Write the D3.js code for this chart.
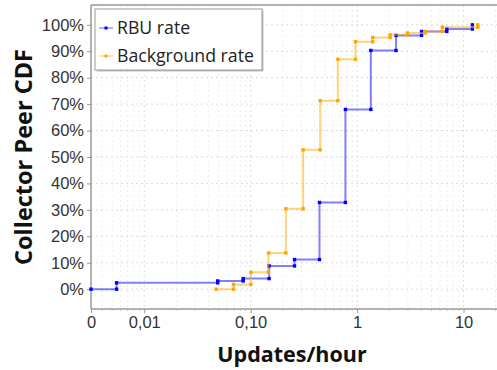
<!DOCTYPE html>
<html>
<head>
<meta charset="utf-8">
<script src="https://cdn.jsdelivr.net/npm/d3@7"></script>
<style>
  body { margin: 0; background: #fff; }
  svg { display: block; font-family: "Open Sans", "Noto Sans", sans-serif; }
</style>
</head>
<body>
<div id="chart"></div>
<script>
// RBU rate (updates/hour -> cumulative % of collector peers)
var rbuX = [0, 0.0055, 0.049, 0.085, 0.149, 0.258, 0.443, 0.776, 1.345, 2.32, 4.03, 6.95, 12.1];
var rbuY = [0, 2.4, 3.1, 4.0, 8.8, 11.2, 32.8, 68.0, 90.3, 96.0, 97.5, 98.4, 100];
// Background rate
var bgX = [0.0474, 0.0689, 0.1005, 0.147, 0.214, 0.311, 0.450, 0.659, 0.964, 1.40, 2.04, 2.97, 4.35, 6.32, 13.6];
var bgY = [0, 1.8, 6.4, 13.7, 30.4, 52.7, 71.3, 87.0, 93.6, 95.2, 96.2, 96.9, 97.5, 99.1, 100];

var xTicks = [0, 0.01, 0.1, 1, 10];
var xTickLabels = ["0", "0,01", "0,10", "1", "10"];
var yTicks = [0, 10, 20, 30, 40, 50, 60, 70, 80, 90, 100];

var W = 497, H = 370;
var margin = {top: 5, right: 0, bottom: 61, left: 91};
var width = W - margin.left - margin.right,
    height = H - margin.top - margin.bottom;

var svg = d3.select("#chart").append("svg")
  .attr("width", W)
  .attr("height", H);

var g = svg.append("g")
  .attr("transform", "translate(" + margin.left + "," + margin.top + ")");

// log axis, clamped so that 0 lands on the left edge (half a decade below 0,01)
var xMin = Math.pow(10, -2.5);
var x = d3.scaleLog().domain([xMin, 20.6]).range([0, width]).clamp(true);
var xPos = function(v) { return v <= 0 ? 0 : x(v); };
var y = d3.scaleLinear().domain([-7.5, 107.5]).range([height, 0]);

// minor grid
var minor = [];
[0.001, 0.01, 0.1, 1, 10].forEach(function(d) {
  for (var k = 2; k <= 9; k++) {
    var v = d * k;
    if (v > xMin && v < 20.6) minor.push(v);
  }
});
g.selectAll(".minor").data(minor).enter().append("line")
  .attr("x1", function(d) { return x(d); })
  .attr("x2", function(d) { return x(d); })
  .attr("y1", 0).attr("y2", height)
  .attr("stroke", "#ececec").attr("stroke-dasharray", "2,3");

g.selectAll(".vgrid").data(xTicks.slice(1)).enter().append("line")
  .attr("x1", function(d) { return x(d); })
  .attr("x2", function(d) { return x(d); })
  .attr("y1", 0).attr("y2", height)
  .attr("stroke", "#dcdcdc").attr("stroke-dasharray", "2,3");

g.selectAll(".hgrid").data(yTicks).enter().append("line")
  .attr("x1", 0).attr("x2", width)
  .attr("y1", function(d) { return y(d); })
  .attr("y2", function(d) { return y(d); })
  .attr("stroke", "#dcdcdc").attr("stroke-dasharray", "2,3");

// frame
g.append("line").attr("x1", 0).attr("x2", width).attr("y1", 0).attr("y2", 0)
  .attr("stroke", "#999").attr("stroke-width", 1.5);

// axes
var yAxis = d3.axisLeft(y).tickValues(yTicks).tickSize(4)
  .tickFormat(function(d) { return d + "%"; });
var ya = g.append("g").call(yAxis);
ya.select(".domain").attr("stroke", "#999").attr("stroke-width", 1.5)
  .attr("d", "M0," + height + "V0");
ya.selectAll(".tick line").attr("stroke", "#999");
ya.selectAll("text").attr("font-size", 16.5).attr("fill", "#333").attr("x", -7);

var xAxis = d3.axisBottom(x).tickValues(xTicks).tickSize(4)
  .tickFormat(function(d, i) { return xTickLabels[i]; });
var xa = g.append("g").attr("transform", "translate(0," + height + ")").call(xAxis);
xa.select(".domain").attr("stroke", "#999").attr("stroke-width", 1.5)
  .attr("d", "M0,0H" + width);
xa.selectAll(".tick line").attr("stroke", "#999");
xa.selectAll("text").attr("font-size", 16.5).attr("fill", "#333").attr("y", 7);

g.selectAll(".mtick").data(minor).enter().append("line")
  .attr("x1", function(d) { return x(d); })
  .attr("x2", function(d) { return x(d); })
  .attr("y1", height).attr("y2", height + 2)
  .attr("stroke", "#bbb");

// series
function drawSeries(xs, ys, color) {
  var pts = xs.map(function(d, i) { return [xPos(d), y(ys[i])]; });
  g.append("path")
    .attr("d", d3.line().curve(d3.curveStepAfter)(pts))
    .attr("fill", "none")
    .attr("stroke", color)
    .attr("stroke-opacity", 0.5)
    .attr("stroke-width", 2);
  var marks = [];
  xs.forEach(function(d, i) {
    if (i > 0) marks.push([xPos(d), y(ys[i - 1])]);
    marks.push([xPos(d), y(ys[i])]);
  });
  g.selectAll(null).data(marks).enter().append("rect")
    .attr("x", function(d) { return d[0] - 1.7; })
    .attr("y", function(d) { return d[1] - 1.7; })
    .attr("width", 3.4).attr("height", 3.4)
    .attr("fill", color);
}
drawSeries(rbuX, rbuY, "#0000ff");
drawSeries(bgX, bgY, "#ffa500");

// legend
var lg = svg.append("g").attr("transform", "translate(95,9)");
lg.append("rect").attr("x", 1.5).attr("y", 1.5).attr("width", 167).attr("height", 61)
  .attr("fill", "#888").attr("opacity", 0.5);
lg.append("rect").attr("x", 0).attr("y", 0).attr("width", 167).attr("height", 61)
  .attr("fill", "#fff").attr("stroke", "#999");
var items = [["RBU rate", "#0000ff"], ["Background rate", "#ffa500"]];
items.forEach(function(it, i) {
  var cy = 19 + i * 28;
  lg.append("line").attr("x1", 4).attr("x2", 18).attr("y1", cy).attr("y2", cy)
    .attr("stroke", it[1]).attr("stroke-opacity", 0.6).attr("stroke-width", 1);
  lg.append("rect").attr("x", 9.5).attr("y", cy - 1.5).attr("width", 3).attr("height", 3)
    .attr("fill", it[1]);
  lg.append("text").attr("x", 22).attr("y", cy).attr("dy", "0.35em")
    .attr("font-size", 17.7).attr("fill", "#222").text(it[0]);
});

// axis titles
svg.append("text")
  .attr("transform", "translate(32," + (margin.top + y(50)) + ")rotate(-90)")
  .attr("text-anchor", "middle")
  .attr("font-size", 23.5).attr("font-weight", "bold").attr("fill", "#111")
  .text("Collector Peer CDF");
svg.append("text")
  .attr("x", 292).attr("y", 362)
  .attr("text-anchor", "middle")
  .attr("font-size", 21.5).attr("font-weight", "bold").attr("fill", "#111")
  .text("Updates/hour");
</script>
</body>
</html>
